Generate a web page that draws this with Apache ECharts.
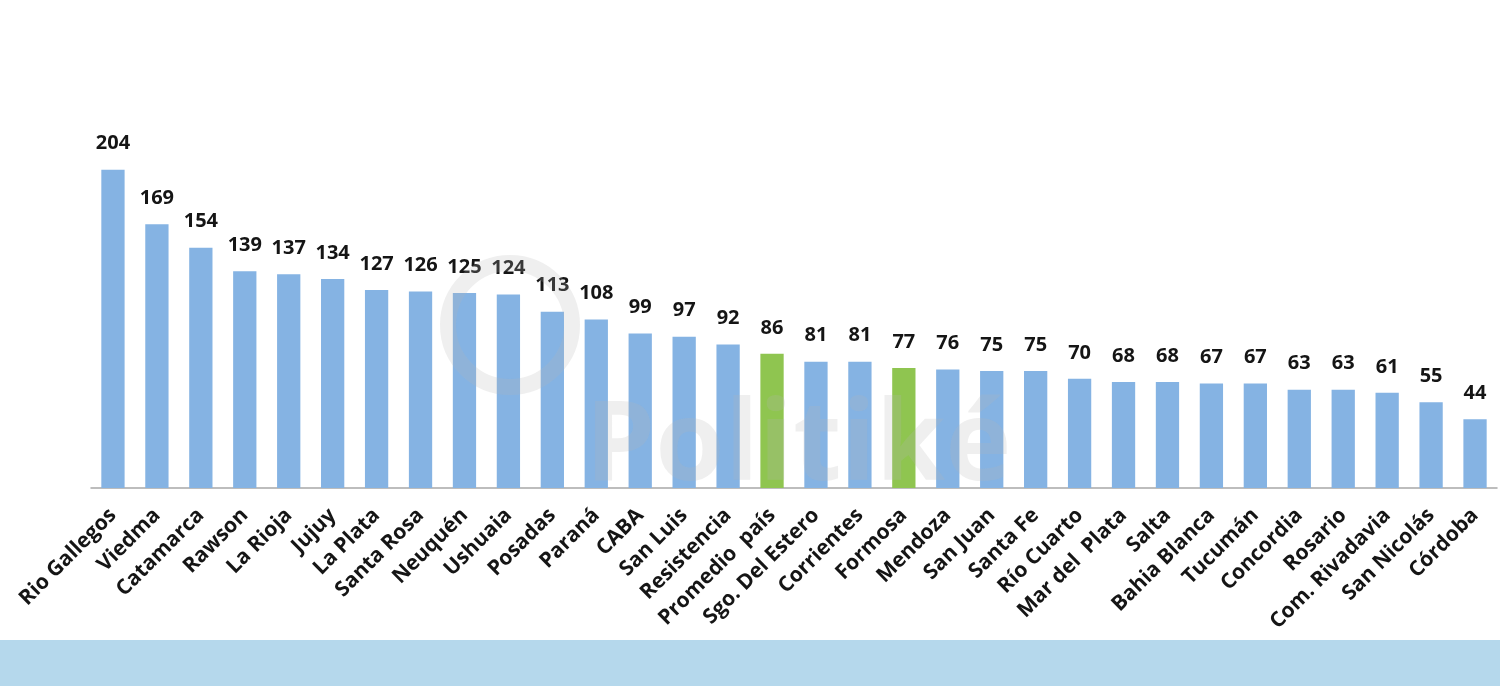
<!DOCTYPE html>
<html>
<head>
<meta charset="utf-8">
<script src="https://cdn.jsdelivr.net/npm/echarts@6/dist/echarts.min.js"></script>
<style>html,body{margin:0;padding:0;background:#fff}#c{width:1500px;height:686px}</style>
</head>
<body>
<div id="c"></div>
<script>
const categories = ["Rio Gallegos","Viedma","Catamarca","Rawson","La Rioja","Jujuy","La Plata","Santa Rosa","Neuquén","Ushuaia","Posadas","Paraná","CABA","San Luis","Resistencia","Promedio  país","Sgo. Del Estero","Corrientes","Formosa","Mendoza","San Juan","Santa Fe","Río Cuarto","Mar del  Plata","Salta","Bahia Blanca","Tucumán","Concordia","Rosario","Com. Rivadavia","San Nicolás","Córdoba"];
const values = [204,169,154,139,137,134,127,126,125,124,113,108,99,97,92,86,81,81,77,76,75,75,70,68,68,67,67,63,63,61,55,44];
const highlighted = ["Promedio  país","Formosa"];

const chart = echarts.init(document.getElementById('c'));
const blue = '#85b3e3', green = '#8fc550';
const data = values.map((v,i)=>({value:v,itemStyle:{color: highlighted.includes(categories[i]) ? green : blue}}));
chart.setOption({
  animation:false,
  backgroundColor:'#ffffff',
  grid:{left:91,right:3,top:98,bottom:198,containLabel:false},
  xAxis:{type:'category',data:categories,
    axisLine:{lineStyle:{color:'#a8a8a8',width:1.5}},
    axisTick:{show:false},
    axisLabel:{interval:0,rotate:45,color:'#151515',fontFamily:'Open Sans',fontWeight:'bold',fontSize:21,margin:24}},
  yAxis:{type:'value',min:0,max:250,show:false,splitLine:{show:false}},
  graphic:[
    {type:'rect',left:0,top:640,shape:{width:1500,height:46},style:{fill:'#b5d8ec'},z:-1},
    {type:'circle',shape:{cx:510,cy:325,r:62},style:{fill:'none',stroke:'rgba(180,180,180,0.22)',lineWidth:16},z:100},
    {type:'text',left:585,top:392,style:{text:'Politiké',fontSize:112,fontFamily:'Open Sans',fontWeight:'bold',fill:'rgba(180,180,180,0.22)'},z:100}
  ],
  series:[{type:'bar',data:data,barWidth:'53%',
    label:{show:true,position:'top',distance:16,color:'#151515',fontFamily:'Open Sans',fontWeight:'bold',fontSize:20}}]
});
</script>
</body>
</html>
